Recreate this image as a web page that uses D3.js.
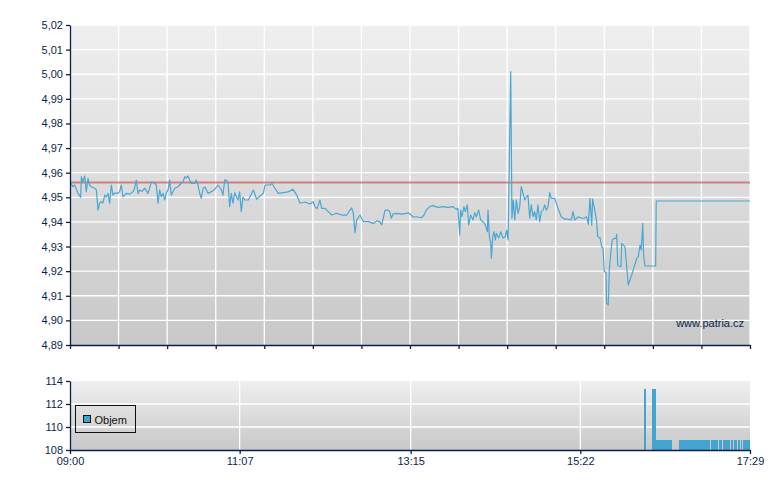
<!DOCTYPE html>
<html>
<head>
<meta charset="utf-8">
<script src="https://cdn.jsdelivr.net/npm/d3@7"></script>
<style>
  body { margin: 0; background: #fff; }
  text { font-family: "Liberation Sans", Arial, sans-serif; }
</style>
</head>
<body>
<div id="chart"></div>
<script>
// minutes after 09:00 and price
var priceTime = [0.4,2.0,3.5,6.0,8.0,8.5,9.7,11.0,12.2,13.5,14.7,15.9,18.5,19.7,21.0,22.2,23.4,24.7,26.0,27.2,28.4,29.7,30.9,32.2,33.7,35.9,37.2,38.4,39.7,42.1,44.7,47.2,48.4,49.6,50.9,52.2,53.9,55.9,58.4,60.9,63.4,64.6,65.9,67.1,68.3,69.6,70.9,72.1,73.4,74.6,75.8,77.1,78.4,80.8,83.3,84.6,85.9,87.0,88.3,89.6,90.8,93.3,94.5,95.8,97.1,98.3,99.6,101.1,103.3,105.8,108.3,110.8,113.3,114.5,115.8,117.0,118.3,119.5,120.7,122.0,123.3,125.8,127.0,128.2,129.5,131.0,133.5,137.2,139.7,142.2,144.7,146.0,149.7,151.2,153.4,155.9,159.7,163.2,166.9,169.7,172.2,175.9,179.6,182.1,183.4,184.9,187.1,188.4,190.9,193.3,195.9,199.6,203.4,207.1,209.6,210.8,212.1,213.3,214.6,217.1,219.5,223.3,227.0,229.6,232.0,233.3,234.5,235.8,238.3,239.3,240.5,241.8,244.2,248.0,251.7,253.0,255.5,256.7,259.2,263.0,265.0,266.7,269.2,271.7,275.4,279.2,282.9,286.7,289.2,290.4,291.7,292.4,293.4,294.9,295.9,297.4,298.4,299.9,301.7,302.9,304.1,305.9,307.4,309.1,310.9,312.4,312.9,313.9,314.9,315.4,316.4,317.4,318.4,319.1,320.9,322.4,324.1,325.8,326.9,327.9,329.9,330.8,331.8,332.9,334.1,335.4,336.6,337.8,339.1,340.4,341.6,342.8,344.1,345.3,346.6,347.8,349.0,350.3,351.6,352.8,354.1,355.3,356.5,357.8,359.1,360.3,362.8,365.3,367.7,370.3,372.8,375.2,376.5,377.8,380.5,383.0,384.7,386.8,388.0,389.2,390.5,391.2,393.0,394.2,395.0,396.7,398.0,399.0,399.9,401.2,401.7,402.9,403.7,404.9,405.9,407.4,408.7,409.2,410.0,412.4,413.0,414.2,415.4,417.9,420.4,424.2,425.4,426.7,427.6,428.7,429.4,430.4,438.4,438.8,509];
var priceValue = [4.9562,4.9543,4.9550,4.9516,4.9500,4.9584,4.9562,4.9587,4.9523,4.9577,4.9550,4.9543,4.9537,4.9530,4.9448,4.9476,4.9482,4.9477,4.9509,4.9501,4.9516,4.9476,4.9550,4.9509,4.9518,4.9516,4.9524,4.9550,4.9502,4.9516,4.9513,4.9523,4.9537,4.9570,4.9516,4.9530,4.9524,4.9537,4.9516,4.9563,4.9557,4.9550,4.9476,4.9530,4.9502,4.9516,4.9489,4.9518,4.9530,4.9570,4.9509,4.9523,4.9537,4.9543,4.9557,4.9563,4.9584,4.9578,4.9587,4.9570,4.9557,4.9557,4.9570,4.9550,4.9516,4.9496,4.9537,4.9542,4.9516,4.9523,4.9532,4.9550,4.9530,4.9509,4.9570,4.9570,4.9558,4.9462,4.9516,4.9476,4.9518,4.9489,4.9522,4.9442,4.9501,4.9489,4.9489,4.9530,4.9492,4.9505,4.9516,4.9550,4.9550,4.9556,4.9537,4.9516,4.9519,4.9522,4.9533,4.9509,4.9476,4.9481,4.9473,4.9482,4.9462,4.9453,4.9489,4.9455,4.9455,4.9442,4.9428,4.9435,4.9428,4.9428,4.9448,4.9457,4.9435,4.9356,4.9408,4.9428,4.9401,4.9401,4.9394,4.9404,4.9400,4.9388,4.9415,4.9448,4.9448,4.9442,4.9415,4.9432,4.9435,4.9432,4.9435,4.9437,4.9428,4.9420,4.9421,4.9417,4.9428,4.9448,4.9462,4.9466,4.9459,4.9462,4.9459,4.9462,4.9451,4.9455,4.9347,4.9448,4.9421,4.9462,4.9442,4.9469,4.9388,4.9428,4.9408,4.9437,4.9421,4.9448,4.9408,4.9401,4.9388,4.9360,4.9448,4.9340,4.9316,4.9252,4.9340,4.9360,4.9327,4.9354,4.9335,4.9360,4.9335,4.9340,4.9367,4.9327,5.0011,4.9415,4.9489,4.9408,4.9489,4.9435,4.9461,4.9543,4.9516,4.9489,4.9501,4.9509,4.9415,4.9469,4.9421,4.9442,4.9408,4.9469,4.9401,4.9442,4.9448,4.9469,4.9448,4.9462,4.9519,4.9496,4.9496,4.9455,4.9421,4.9411,4.9411,4.9408,4.9442,4.9408,4.9421,4.9415,4.9415,4.9421,4.9390,4.9496,4.9387,4.9493,4.9442,4.9401,4.9340,4.9336,4.9299,4.9294,4.9198,4.9195,4.9069,4.9062,4.9205,4.9279,4.9327,4.9333,4.9333,4.9350,4.9222,4.9218,4.9313,4.9306,4.9299,4.9144,4.9184,4.9252,4.9259,4.9306,4.9286,4.9394,4.9259,4.9221,4.9221,4.9485,4.9485];
var prevClose = 4.956;

// volume per minute after 09:00
var volTime = [430,436,437,438,439,440,441,442,443,444,445,446,447,448,449,456,457,458,459,460,461,462,463,464,465,466,467,468,469,470,471,472,473,474,475,476,477,478,480,481,482,483,484,486,487,489,490,491,492,493,495,497,498,500,502,504,505,506,507,508];
var volValue = [113.3,113.3,113.3,108.9,108.9,108.9,108.9,108.9,108.9,108.9,108.9,108.9,108.9,108.9,108.9,108.9,108.9,108.9,108.9,108.9,108.9,108.9,108.9,108.9,108.9,108.9,108.9,108.9,108.9,108.9,108.9,108.9,108.9,108.9,108.9,108.9,108.9,108.9,108.9,108.9,108.9,108.9,108.9,108.9,108.9,108.9,108.9,108.9,108.9,108.9,108.9,108.9,108.9,108.9,108.9,108.9,108.9,108.9,108.9,108.9];

var priceTicks = [4.89,4.90,4.91,4.92,4.93,4.94,4.95,4.96,4.97,4.98,4.99,5.00,5.01,5.02];
var volTicks = [108,110,112,114];
var timeLabels = ["09:00","11:07","13:15","15:22","17:29"];
var upperDivisions = 14;

var width = 780, height = 490;
var left = 70, right = 750;
var top1 = 25, bottom1 = 345;
var top2 = 381, bottom2 = 450;
var axisColor = "#0b1f4d";
var lineColor = "#4aa7d3";

function toMinutes(s) {
    var p = s.split(":");
    return (+p[0] - 9) * 60 + (+p[1]);
}
var fmtPrice = function (d) { return d3.format(".2f")(d).replace(".", ","); };

var svg = d3.select("#chart").append("svg")
    .attr("width", width)
    .attr("height", height);

var defs = svg.append("defs");
var grad = defs.append("linearGradient")
    .attr("id", "bg").attr("x1", 0).attr("y1", 0).attr("x2", 0).attr("y2", 1);
grad.append("stop").attr("offset", "0%").attr("stop-color", "#efefef");
grad.append("stop").attr("offset", "100%").attr("stop-color", "#c8c8c8");

var x = d3.scaleLinear().domain([0, toMinutes("17:29")]).range([left, right]);
var y = d3.scaleLinear().domain([4.89, 5.02]).range([bottom1, top1]);
var yVol = d3.scaleLinear().domain([108, 114]).range([bottom2, top2]);

var upperTicks = d3.range(upperDivisions + 1).map(function (i) { return i * x.domain()[1] / upperDivisions; });
var lowerTicks = timeLabels.map(toMinutes);
lowerTicks[lowerTicks.length - 1] = x.domain()[1];

// ---- price panel ----
svg.append("rect")
    .attr("x", left).attr("y", top1)
    .attr("width", right - left).attr("height", bottom1 - top1)
    .attr("fill", "url(#bg)");

var grid1 = svg.append("g").attr("stroke", "#fff").attr("stroke-width", 1.3);
grid1.selectAll("line.h").data(priceTicks.slice(1)).enter().append("line")
    .attr("x1", left).attr("x2", right)
    .attr("y1", function (d) { return y(d); }).attr("y2", function (d) { return y(d); });
grid1.selectAll("line.v").data(upperTicks.slice(1)).enter().append("line")
    .attr("y1", top1).attr("y2", bottom1)
    .attr("x1", function (d) { return x(d); }).attr("x2", function (d) { return x(d); });

svg.append("line")
    .attr("x1", left).attr("x2", right)
    .attr("y1", y(prevClose)).attr("y2", y(prevClose))
    .attr("stroke", "#d9545a").attr("stroke-opacity", 0.7).attr("stroke-width", 2);

var line = d3.line()
    .x(function (d, i) { return x(priceTime[i]); })
    .y(function (d) { return y(d); });

svg.append("path")
    .datum(priceValue)
    .attr("fill", "none")
    .attr("stroke", lineColor)
    .attr("stroke-width", 1.2)
    .attr("stroke-linejoin", "round")
    .attr("d", line);

svg.append("text")
    .text("www.patria.cz")
    .attr("x", 744).attr("y", 327)
    .attr("text-anchor", "end")
    .attr("font-size", 11)
    .attr("fill", axisColor);

var yAxis1 = svg.append("g")
    .attr("transform", "translate(" + left + ",0)")
    .call(d3.axisLeft(y).tickValues(priceTicks).tickFormat(fmtPrice).tickSizeInner(4).tickSizeOuter(0).tickPadding(3));

var xAxis1 = svg.append("g")
    .attr("transform", "translate(0," + bottom1 + ")")
    .call(d3.axisBottom(x).tickValues(upperTicks).tickFormat("").tickSizeInner(4).tickSizeOuter(0));

// ---- volume panel ----
svg.append("rect")
    .attr("x", left).attr("y", top2)
    .attr("width", right - left).attr("height", bottom2 - top2)
    .attr("fill", "url(#bg)");

var grid2 = svg.append("g").attr("stroke", "#fff").attr("stroke-width", 1.3);
grid2.selectAll("line.h").data(volTicks.slice(1, -1)).enter().append("line")
    .attr("x1", left).attr("x2", right)
    .attr("y1", function (d) { return yVol(d); }).attr("y2", function (d) { return yVol(d); });
grid2.selectAll("line.v").data(lowerTicks.slice(1, -1)).enter().append("line")
    .attr("y1", top2).attr("y2", bottom2)
    .attr("x1", function (d) { return x(d); }).attr("x2", function (d) { return x(d); });

svg.append("g")
    .attr("fill", "#45a3cf")
    .attr("shape-rendering", "crispEdges")
    .selectAll("rect")
    .data(volValue)
    .enter().append("rect")
    .attr("x", function (d, i) { return x(volTime[i]); })
    .attr("width", function (d, i) { return x(volTime[i] + 1) - x(volTime[i]) + 0.4; })
    .attr("y", function (d) { return yVol(d); })
    .attr("height", function (d) { return bottom2 - yVol(d); });

var yAxis2 = svg.append("g")
    .attr("transform", "translate(" + left + ",0)")
    .call(d3.axisLeft(yVol).tickValues(volTicks).tickFormat(d3.format("d")).tickSizeInner(4).tickSizeOuter(0).tickPadding(3));

var xAxis2 = svg.append("g")
    .attr("transform", "translate(0," + bottom2 + ")")
    .call(d3.axisBottom(x).tickValues(lowerTicks)
        .tickFormat(function (d, i) { return timeLabels[i]; })
        .tickSizeInner(4).tickSizeOuter(0).tickPadding(3));

[yAxis1, xAxis1, yAxis2, xAxis2].forEach(function (a) {
    a.select(".domain").attr("stroke", axisColor).attr("stroke-width", 1.3);
    a.selectAll(".tick line").attr("stroke", axisColor).attr("stroke-width", 1.3);
    a.selectAll(".tick text").attr("fill", axisColor).attr("font-size", 11)
        .attr("font-family", "'Liberation Sans', Arial, sans-serif");
});

// legend
var legend = svg.append("g").attr("transform", "translate(75.5,405.5)");
legend.append("rect")
    .attr("width", 60).attr("height", 27)
    .attr("fill", "none").attr("stroke", "#111").attr("stroke-width", 1);
legend.append("rect")
    .attr("x", 8).attr("y", 10).attr("width", 7).attr("height", 7)
    .attr("fill", "#45a3cf").attr("stroke", "#111").attr("stroke-width", 1);
legend.append("text")
    .text("Objem")
    .attr("x", 19).attr("y", 18)
    .attr("font-size", 11)
    .attr("fill", "#111");
</script>
</body>
</html>
